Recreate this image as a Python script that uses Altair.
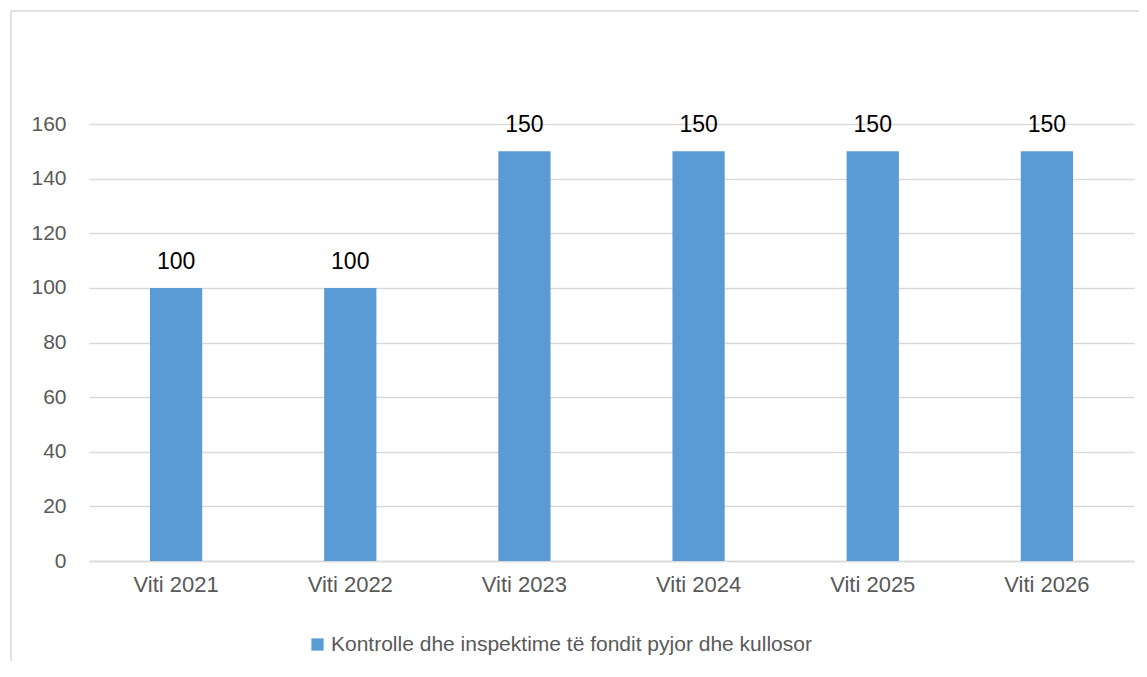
import altair as alt
import pandas as pd

years = ["Viti 2021", "Viti 2022", "Viti 2023", "Viti 2024", "Viti 2025", "Viti 2026"]
values = [100, 100, 150, 150, 150, 150]
series = "Kontrolle dhe inspektime të fondit pyjor dhe kullosor"

df = pd.DataFrame({"year": years, "value": values, "series": [series] * len(years)})

FONT = "Liberation Sans"
W, H = 1045, 437

x = alt.X("year:N", sort=years, title=None,
          scale=alt.Scale(paddingInner=0.7, paddingOuter=0.35),
          axis=alt.Axis(labelAngle=0, labelFontSize=22, labelColor="#595959", labelFont=FONT,
                        labelPadding=13, ticks=False, domainColor="#d9d9d9", domainWidth=1.5,
                        grid=False))
y = alt.Y("value:Q", title=None,
          scale=alt.Scale(domain=[0, 160], nice=False),
          axis=alt.Axis(values=list(range(0, 161, 20)), labelFontSize=21, labelColor="#595959",
                        labelFont=FONT, labelPadding=23, ticks=False, domain=False,
                        gridColor="#d9d9d9", gridWidth=1.5))

bars = alt.Chart(df).mark_bar(color="#5B9BD5").encode(
    x=x, y=y,
    color=alt.Color("series:N", scale=alt.Scale(range=["#5B9BD5"]),
                    legend=alt.Legend(title=None, orient="none", legendX=218, legendY=510,
                                      symbolType="square", symbolSize=150, symbolStrokeWidth=0,
                                      labelFontSize=21, labelColor="#595959", labelFont=FONT,
                                      labelLimit=800, labelOffset=3)),
)

labels = alt.Chart(df).mark_text(fontSize=23, font=FONT, color="#000000", dy=-19,
                                 baseline="alphabetic").encode(
    x=alt.X("year:N", sort=years), y="value:Q", text="value:Q")

border = alt.Chart(alt.Data(values=[{"a": 1}])).mark_rect(
    fill=None, fillOpacity=0, stroke="#d9d9d9", strokeWidth=1.5, clip=False
).encode(x=alt.value(-78), x2=alt.value(W + 30), y=alt.value(-113), y2=alt.value(H + 150))

chart = alt.layer(border, bars, labels).properties(
    width=W, height=H,
    background="white",
    autosize=alt.AutoSizeParams(type="none"),
    padding={"left": 81, "top": 116, "right": 5, "bottom": 100},
).configure_view(stroke="transparent", strokeWidth=0)

chart.save("out.html", embed_options={"renderer": "svg", "actions": False})
